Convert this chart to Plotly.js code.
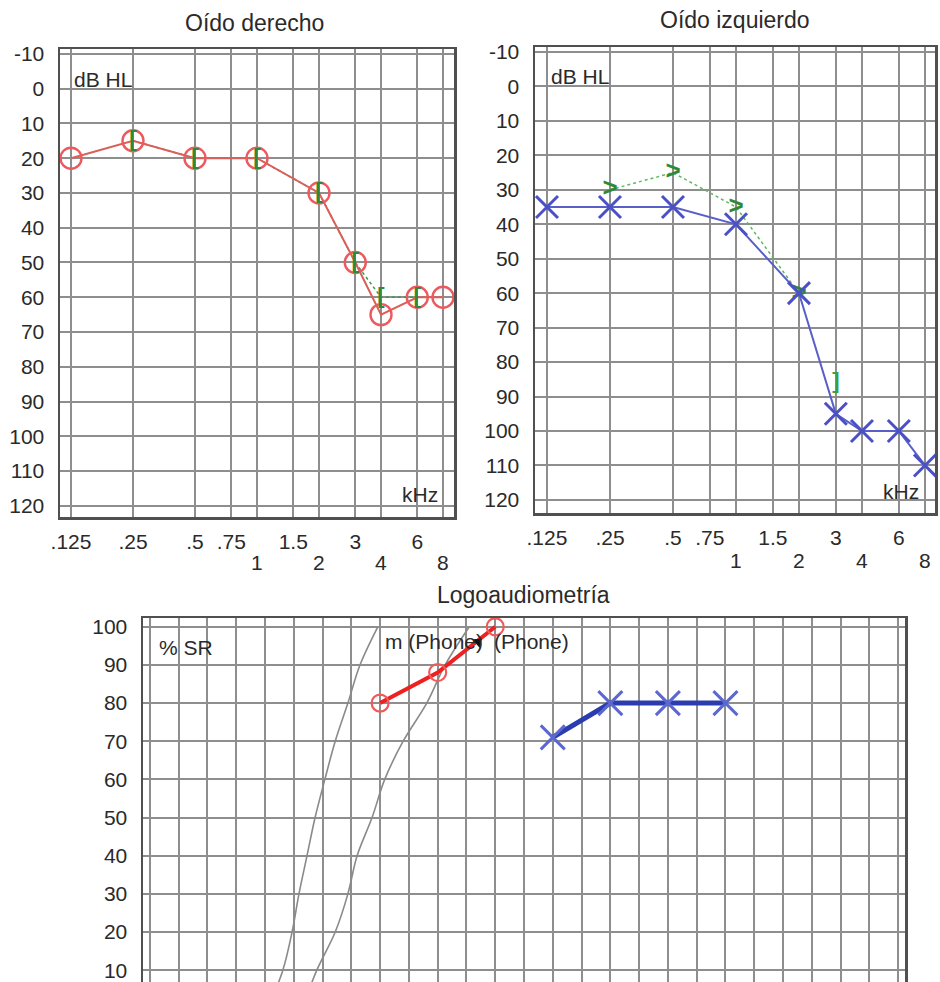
<!DOCTYPE html>
<html>
<head>
<meta charset="utf-8">
<script src="https://cdn.plot.ly/plotly-3.0.1.min.js"></script>
<style>html,body{margin:0;padding:0;background:#fff;}#chart{width:940px;height:982px;}</style>
</head>
<body>
<div id="chart"></div>
<script>
// ---- Data ----
const freqTicks = [0.125, 0.25, 0.5, 0.75, 1, 1.5, 2, 3, 4, 6, 8];
const freqUpperText = ['.125', '.25', '.5', '.75', '', '1.5', '', '3', '', '6', ''];
const freqLowerTicks = [1, 2, 4, 8];
const freqLowerText = ['1', '2', '4', '8'];
const dbTicks = [-10, 0, 10, 20, 30, 40, 50, 60, 70, 80, 90, 100, 110, 120];

// Right ear (Oído derecho)
const rightAirFreq = [0.125, 0.25, 0.5, 1, 2, 3, 4, 6, 8];
const rightAirDb = [20, 15, 20, 20, 30, 50, 65, 60, 60];
const rightBoneFreq = [0.25, 0.5, 1, 2, 3, 4, 6];
const rightBoneDb = [15, 20, 20, 30, 50, 60, 60];
const rightBoneSym = ['[', '[', '[', '[', '[', '[', '['];

// Left ear (Oído izquierdo)
const leftAirFreq = [0.125, 0.25, 0.5, 1, 2, 3, 4, 6, 8];
const leftAirDb = [35, 35, 35, 40, 60, 95, 100, 100, 110];
const leftBoneFreq = [0.25, 0.5, 1, 2];
const leftBoneDb = [30, 25, 35, 60];
const leftBoneSym = ['>', '>', '>', '>'];
const leftBoneMaskFreq = [3];
const leftBoneMaskDb = [86];
const leftBoneMaskSym = [']'];

// Logoaudiometría
const speechTicksPct = [10, 20, 30, 40, 50, 60, 70, 80, 90, 100];
const rightSpeechDb = [30, 40, 50];
const rightSpeechPct = [80, 88, 100];
const leftSpeechDb = [60, 70, 80, 90];
const leftSpeechPct = [71, 80, 80, 80];
const refCurvePct = [0, 10, 20, 30, 40, 50, 60, 70, 80, 90, 100];
const refCurve1Db = [10.5, 13.1, 14.7, 15.9, 17.3, 18.7, 20.4, 22.2, 24.4, 26.5, 29.6];
const refCurve2Db = [16.5, 19.0, 22.2, 24.4, 26.0, 28.6, 30.8, 34.0, 38.1, 41.3, 45.5];
const arrowDb = [47];
const arrowPct = [96];

// ---- Styles ----
const FONT = 'Liberation Sans, Arial, sans-serif';
const TXT = '#2a2a2a';
const GRID = '#8e8e8e';
const FRAME = '#505050';
const W = 940, H = 982;
const px = v => v / W;
const py = v => 1 - v / H;

const traces = [
  // Right ear bone (dotted green line behind)
  {x: rightBoneFreq, y: rightBoneDb, xaxis: 'x', yaxis: 'y', mode: 'lines',
   line: {color: '#3c9a44', width: 1.5, dash: 'dot'}},
  // Right ear air
  {x: rightAirFreq, y: rightAirDb, xaxis: 'x', yaxis: 'y', mode: 'lines+markers',
   line: {color: '#d9605a', width: 2},
   marker: {symbol: 'circle-open', size: 21, color: '#ec5a60', line: {width: 2.4, color: '#ec5a60'}}},
  {x: rightBoneFreq, y: rightBoneDb, xaxis: 'x', yaxis: 'y', mode: 'text',
   text: rightBoneSym, textposition: 'middle center',
   textfont: {family: FONT, size: 22, color: '#2e8a36', weight: 'bold'}},
  // Left ear bone
  {x: leftBoneFreq, y: leftBoneDb, xaxis: 'x2', yaxis: 'y2', mode: 'lines+text',
   line: {color: '#5fb85f', width: 1.5, dash: 'dot'},
   text: leftBoneSym, textposition: 'middle center',
   textfont: {family: FONT, size: 26, color: '#2e8a36', weight: 'bold'}},
  {x: leftBoneMaskFreq, y: leftBoneMaskDb, xaxis: 'x2', yaxis: 'y2', mode: 'text',
   text: leftBoneMaskSym, textposition: 'middle center',
   textfont: {family: FONT, size: 22, color: '#3aa040', weight: 'bold'}},
  // Left ear air
  {x: leftAirFreq, y: leftAirDb, xaxis: 'x2', yaxis: 'y2', mode: 'lines+markers',
   line: {color: '#5a5fc8', width: 2},
   marker: {symbol: 'x-thin-open', size: 22, color: '#4a50c6', line: {width: 3, color: '#4a50c6'}}},
  // Speech reference curves
  {x: refCurve1Db, y: refCurvePct, xaxis: 'x3', yaxis: 'y3', mode: 'lines',
   line: {color: '#8a8a8a', width: 1.6, shape: 'spline'}},
  {x: refCurve2Db, y: refCurvePct, xaxis: 'x3', yaxis: 'y3', mode: 'lines',
   line: {color: '#8a8a8a', width: 1.6, shape: 'spline'}},
  // Speech right ear
  {x: rightSpeechDb, y: rightSpeechPct, xaxis: 'x3', yaxis: 'y3', mode: 'lines+markers',
   line: {color: '#ee2020', width: 4},
   marker: {symbol: 'circle-open', size: 17, color: '#f05a5a', line: {width: 2.2, color: '#f05a5a'}}},
  {x: arrowDb, y: arrowPct, xaxis: 'x3', yaxis: 'y3', mode: 'markers',
   marker: {symbol: 'triangle-right', size: 10, color: '#111', angle: -40}},
  // Speech left ear
  {x: leftSpeechDb, y: leftSpeechPct, xaxis: 'x3', yaxis: 'y3', mode: 'lines+markers',
   line: {color: '#2a3cae', width: 5},
   marker: {symbol: 'x-thin-open', size: 24, color: '#5a68d0', line: {width: 3, color: '#5a68d0'}}}
];

function audioX(domain, range, anchor) {
  return {
    type: 'log', range: range, domain: domain, anchor: anchor,
    tickmode: 'array', tickvals: freqTicks, ticktext: freqUpperText,
    showgrid: true, gridcolor: GRID, gridwidth: 2,
    showline: true, mirror: true, linecolor: FRAME, linewidth: 2.5,
    zeroline: false, ticks: '', ticklabelstandoff: 4,
    tickfont: {family: FONT, size: 21, color: TXT}, fixedrange: true
  };
}
function audioY(domain, range, anchor) {
  return {
    range: range, domain: domain, anchor: anchor,
    tickmode: 'array', tickvals: dbTicks, ticktext: dbTicks.map(String),
    showgrid: true, gridcolor: GRID, gridwidth: 2,
    showline: true, mirror: true, linecolor: FRAME, linewidth: 2.5,
    zeroline: false, ticks: '', ticklabelstandoff: 9,
    tickfont: {family: FONT, size: 21, color: TXT}, fixedrange: true
  };
}

const annFont = {family: FONT, size: 21, color: TXT};
const titleFont = {family: FONT, size: 23, color: TXT};
const annotations = [
  {text: 'Oído derecho', xref: 'paper', yref: 'paper', x: px(255), y: py(23), xanchor: 'center', yanchor: 'middle', showarrow: false, font: titleFont},
  {text: 'Oído izquierdo', xref: 'paper', yref: 'paper', x: px(735), y: py(20), xanchor: 'center', yanchor: 'middle', showarrow: false, font: titleFont},
  {text: 'Logoaudiometría', xref: 'paper', yref: 'paper', x: px(523), y: py(595), xanchor: 'center', yanchor: 'middle', showarrow: false, font: titleFont},
  {text: 'dB HL', xref: 'paper', yref: 'paper', x: px(72), y: py(80), xanchor: 'left', yanchor: 'middle', showarrow: false, font: annFont},
  {text: 'dB HL', xref: 'paper', yref: 'paper', x: px(549), y: py(76), xanchor: 'left', yanchor: 'middle', showarrow: false, font: annFont},
  {text: 'kHz', xref: 'paper', yref: 'paper', x: px(440), y: py(495), xanchor: 'right', yanchor: 'middle', showarrow: false, font: annFont},
  {text: 'kHz', xref: 'paper', yref: 'paper', x: px(921), y: py(492), xanchor: 'right', yanchor: 'middle', showarrow: false, font: annFont},
  {text: '% SR', xref: 'paper', yref: 'paper', x: px(157), y: py(647), xanchor: 'left', yanchor: 'middle', showarrow: false, font: annFont},
  {text: 'm (Phone)', xref: 'paper', yref: 'paper', x: px(383), y: py(641), xanchor: 'left', yanchor: 'middle', showarrow: false, font: annFont},
  {text: '(Phone)', xref: 'paper', yref: 'paper', x: px(492), y: py(641), xanchor: 'left', yanchor: 'middle', showarrow: false, font: annFont}
];
// lower row of frequency tick labels (1, 2, 4, 8) placed on each log axis
freqLowerTicks.forEach((f, i) => {
  annotations.push({text: freqLowerText[i], xref: 'x', yref: 'paper', x: Math.log10(f), y: py(562),
    xanchor: 'center', yanchor: 'middle', showarrow: false, font: annFont});
  annotations.push({text: freqLowerText[i], xref: 'x2', yref: 'paper', x: Math.log10(f), y: py(560),
    xanchor: 'center', yanchor: 'middle', showarrow: false, font: annFont});
});

const layout = {
  width: W, height: H,
  margin: {l: 0, r: 0, t: 0, b: 0},
  paper_bgcolor: '#ffffff', plot_bgcolor: '#ffffff',
  showlegend: false, hovermode: false,
  xaxis: audioX([px(60), px(454)], [-0.9564, 0.9564], 'y'),
  yaxis: audioY([py(517), py(49)], [123.2, -11.4], 'x'),
  xaxis2: audioX([px(535), px(935)], [-0.9603, 0.951], 'y2'),
  yaxis2: audioY([py(513), py(47)], [123.8, -11.45], 'x2'),
  xaxis3: {
    range: [-11.2, 121.2], domain: [px(143), px(905)], anchor: 'y3', side: 'top',
    tickmode: 'linear', tick0: -10, dtick: 5, showticklabels: false,
    showgrid: true, gridcolor: GRID, gridwidth: 2,
    showline: true, mirror: false, linecolor: FRAME, linewidth: 2.5,
    zeroline: false, ticks: '', fixedrange: true
  },
  yaxis3: {
    range: [6.9, 102.3], domain: [0, py(618)], anchor: 'x3',
    tickmode: 'array', tickvals: speechTicksPct,
    showgrid: true, gridcolor: GRID, gridwidth: 2,
    showline: true, mirror: true, linecolor: FRAME, linewidth: 2.5,
    zeroline: false, ticks: '', ticklabelstandoff: 9, ticklabeloverflow: 'allow',
    tickfont: {family: FONT, size: 21, color: TXT}, fixedrange: true
  },
  annotations: annotations
};

Plotly.newPlot('chart', traces, layout, {staticPlot: true, displayModeBar: false});
</script>
</body>
</html>
